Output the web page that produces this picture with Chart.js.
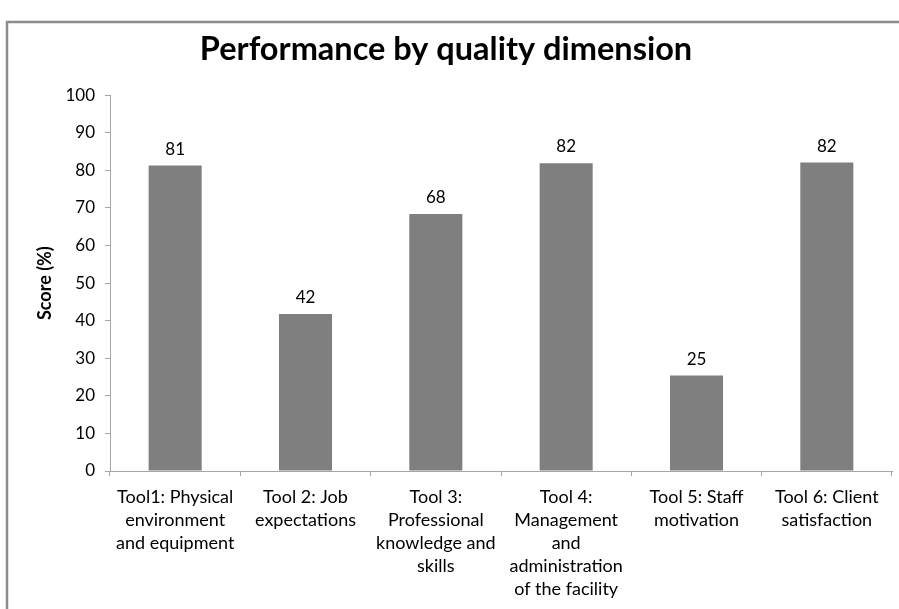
<!DOCTYPE html>
<html>
<head>
<meta charset="utf-8">
<script src="https://cdn.jsdelivr.net/npm/chart.js@4/dist/chart.umd.min.js"></script>
<style>
  html, body { margin: 0; padding: 0; background: #fff; }
  #wrap { position: relative; width: 899px; height: 609px; }
</style>
</head>
<body>
<div id="wrap"><canvas id="c" width="899" height="609"></canvas></div>
<script>
const chartTitle = "Performance by quality dimension";
const yAxisTitle = "Score (%)";
const categories = [
  ["Tool1: Physical", "environment", "and equipment"],
  ["Tool 2: Job", "expectations"],
  ["Tool 3:", "Professional", "knowledge and", "skills"],
  ["Tool 4:", "Management", "and", "administration", "of the facility"],
  ["Tool 5: Staff", "motivation"],
  ["Tool 6: Client", "satisfaction"]
];
const scores = [81.3, 41.8, 68.4, 81.9, 25.4, 82.1];
const yTicks = [0, 10, 20, 30, 40, 50, 60, 70, 80, 90, 100];

const FONT = "Lato, 'Open Sans', sans-serif";
const AXIS_COLOR = '#a6a6a6';

const frame = {
  id: 'frame',
  beforeDraw(chart) {
    const ctx = chart.ctx;
    ctx.save();
    ctx.fillStyle = '#fff';
    ctx.fillRect(0, 0, chart.width, chart.height);
    ctx.strokeStyle = '#8c8c8c';
    ctx.lineWidth = 2.5;
    ctx.beginPath();
    ctx.moveTo(7, chart.height + 5);
    ctx.lineTo(7, 22);
    ctx.lineTo(chart.width + 5, 22);
    ctx.stroke();
    ctx.restore();
  }
};

const valueLabels = {
  id: 'valueLabels',
  afterDatasetsDraw(chart) {
    const ctx = chart.ctx;
    const meta = chart.getDatasetMeta(0);
    ctx.save();
    ctx.font = "17px " + FONT;
    ctx.fillStyle = '#000';
    ctx.textAlign = 'center';
    ctx.textBaseline = 'alphabetic';
    meta.data.forEach((bar, i) => {
      ctx.fillText(String(Math.round(scores[i])), bar.x, bar.y - 11);
    });
    ctx.restore();
  }
};

new Chart(document.getElementById('c'), {
  type: 'bar',
  data: {
    labels: categories,
    datasets: [{
      data: scores,
      backgroundColor: '#7f7f7f',
      borderWidth: 0,
      categoryPercentage: 1.0,
      barPercentage: 0.407
    }]
  },
  options: {
    responsive: false,
    animation: false,
    layout: { padding: { left: 0, right: 7, top: 31, bottom: 0 } },
    plugins: {
      legend: { display: false },
      tooltip: { enabled: false },
      title: {
        display: true,
        text: chartTitle,
        color: '#000',
        font: { family: FONT, size: 32.5, weight: 'bold', lineHeight: 1.1 },
        padding: { top: 1, bottom: 27.5 }
      }
    },
    scales: {
      x: {
        grid: { display: true, drawOnChartArea: false, color: AXIS_COLOR, tickLength: 5, offset: true },
        border: { display: true, color: AXIS_COLOR, width: 1 },
        ticks: {
          color: '#000',
          maxRotation: 0,
          autoSkip: false,
          padding: 10,
          font: { family: FONT, size: 18, lineHeight: 1.27 }
        },
        afterFit(scale) { scale.height = 138; }
      },
      y: {
        min: 0,
        max: 100,
        afterBuildTicks(scale) { scale.ticks = yTicks.map(v => ({ value: v })); },
        grid: { display: true, drawOnChartArea: false, color: AXIS_COLOR, tickLength: 5 },
        border: { display: true, color: AXIS_COLOR, width: 1 },
        ticks: {
          color: '#000',
          padding: 10,
          font: { family: FONT, size: 17 }
        },
        title: {
          display: true,
          text: yAxisTitle,
          color: '#000',
          font: { family: FONT, size: 18, weight: 'bold', lineHeight: 1.2 },
          padding: { top: 34, bottom: 0 }
        },
        afterFit(scale) { scale.width = 110; }
      }
    }
  },
  plugins: [frame, valueLabels]
});
</script>
</body>
</html>
